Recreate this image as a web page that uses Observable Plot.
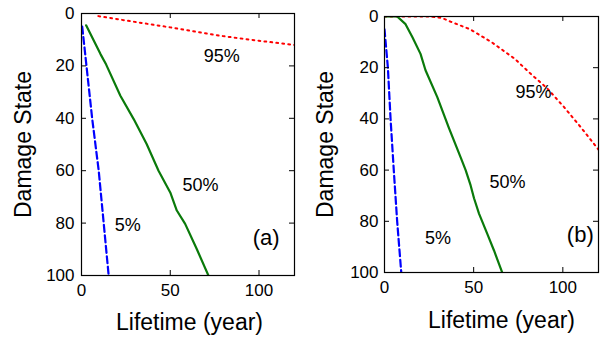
<!DOCTYPE html>
<html><head><meta charset="utf-8">
<script src="https://cdn.jsdelivr.net/npm/d3@7"></script>
<script src="https://cdn.jsdelivr.net/npm/@observablehq/plot@0.6"></script>
<style>
body{margin:0;background:#fff;}
#wrap{display:flex;width:608px;height:338px;}
</style></head><body><div id="wrap"></div>
<script>
const xTicks = [0, 50, 100];
const yTicks = [0, 20, 40, 60, 80, 100];
const innerX = [50, 100];
const innerY = [20, 40, 60, 80];
const xTitle = "Lifetime (year)";
const yTitle = "Damage State";

// panel (a): [lifetime, damage state]
const a5  = [[0.4,5],[2.8,20],[6,40],[9.7,60],[12.5,80],[15.3,100]];
const a50 = [[2.6,4.5],[10.7,15.5],[13.9,19.5],[21.9,31.4],[29.4,40.3],[36.7,49.8],[43.4,60],[50,68.3],[53.7,75.2],[58.4,80.3],[65,90],[71.5,100]];
const a95 = [[9.5,1],[30,3.2],[50,5.3],[78,8.5],[100,10.4],[120,12]];
const aLabels = [{t:"95%",x:79,y:16.2},{t:"50%",x:67,y:65.7},{t:"5%",x:26,y:80.7}];
const aTag = [{t:"(a)",x:104,y:85.6}];

// panel (b)
const b5  = [[0,5],[1.9,20],[3.4,40],[5.2,60],[7.1,80],[9.4,100]];
const b50 = [[0,0],[7.1,0],[11.8,3],[15.6,8],[20.2,14.6],[23,21],[29.6,31.5],[36.1,43.5],[42.7,55],[45.5,60],[48.3,66],[50.2,71],[53,77],[57.7,85],[61.4,91.4],[66,100]];
const b95 = [[0,0],[25,0],[32,0.5],[37,2],[48,5],[60,10],[73,16.5],[82,22.4],[91.4,28.2],[100.7,35.4],[110,43.2],[120,52]];
const bLabels = [{t:"95%",x:83.5,y:29.6},{t:"50%",x:69,y:64.7},{t:"5%",x:30,y:86.8}];
const bTag = [{t:"(b)",x:109.8,y:85.5}];

const FONT = "Liberation Sans, Arial, sans-serif";

function panel({s5, s50, s95, labels, tag, mL, mT, mB, yPad, xTitleDx, xTitleDy, yTitleDx}) {
  const W = 304, H = 338, mR = 10;
  const ih = H - mT - mB, iw = W - mL - mR;
  const X = d => d[0], Y = d => d[1];
  return Plot.plot({
    width: W, height: H,
    marginLeft: mL, marginRight: mR, marginTop: mT, marginBottom: mB,
    style: {fontFamily: FONT, fontSize: "17px", color: "black", background: "white", overflow: "visible"},
    x: {domain: [0, 120], ticks: xTicks, tickSize: 0, tickPadding: 8, label: null},
    y: {domain: [0, 100], reverse: true, ticks: yTicks, tickSize: 0, tickPadding: yPad, label: null},
    marks: [
      Plot.line(s95, {x: X, y: Y, stroke: "#ff0000", strokeWidth: 2, strokeDasharray: "1.8,4.2", clip: true}),
      Plot.line(s50, {x: X, y: Y, stroke: "#0a7a0a", strokeWidth: 2.2, clip: true}),
      Plot.line(s5, {x: X, y: Y, stroke: "#0000ff", strokeWidth: 2.2, strokeDasharray: "7,3.5", clip: true}),
      Plot.tickX(innerX, {x: d => d, insetTop: ih - 5, stroke: "black"}),
      Plot.tickX(innerX, {x: d => d, insetBottom: ih - 5, stroke: "black"}),
      Plot.tickY(innerY, {y: d => d, insetRight: iw - 5, stroke: "black"}),
      Plot.tickY(innerY, {y: d => d, insetLeft: iw - 5, stroke: "black"}),
      Plot.frame({stroke: "black", strokeWidth: 1.2}),
      Plot.text(labels, {x: "x", y: "y", text: "t", fontSize: 18, fill: "black"}),
      Plot.text(tag, {x: "x", y: "y", text: "t", fontSize: 22, fill: "black"}),
      Plot.text([xTitle], {frameAnchor: "bottom", dx: xTitleDx, dy: xTitleDy, fontSize: 23, fill: "black", textAnchor: "middle", lineAnchor: "middle"}),
      Plot.text([yTitle], {frameAnchor: "left", dx: yTitleDx, rotate: -90, fontSize: 23, fill: "black", textAnchor: "middle", lineAnchor: "middle"})
    ]
  });
}

const wrap = document.getElementById("wrap");
wrap.append(panel({s5: a5, s50: a50, s95: a95, labels: aLabels, tag: aTag,
  mL: 81, mT: 13, mB: 63, yPad: 7, xTitleDx: 1.5, xTitleDy: 47, yTitleDx: -58}));
wrap.append(panel({s5: b5, s50: b50, s95: b95, labels: bLabels, tag: bTag,
  mL: 80, mT: 16, mB: 66, yPad: 6, xTitleDx: 10, xTitleDy: 48, yTitleDx: -59}));
</script></body></html>
